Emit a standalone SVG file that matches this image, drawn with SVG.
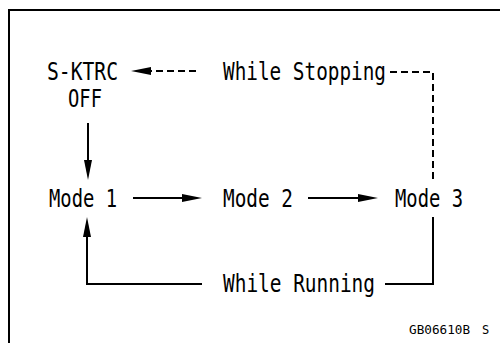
<svg xmlns="http://www.w3.org/2000/svg" width="500" height="343" viewBox="0 0 500 343">
<style>
.t{font-family:"DejaVu Sans Mono","Liberation Mono",monospace;font-size:24px;fill:#000}
.s{font-family:"DejaVu Sans Mono","Liberation Mono",monospace;font-size:12px;fill:#000}
.ln{fill:none;stroke:#000;stroke-width:2}
.d{stroke-dasharray:7,4}
</style>
<defs>
<marker id="ah" viewBox="0 -4 20 8" refX="0" refY="0" markerWidth="20" markerHeight="8" markerUnits="userSpaceOnUse" orient="auto">
<path d="M0,-4 L20,0 L0,4 z" fill="#000"/>
</marker>
</defs>
<rect width="500" height="343" fill="#fff"/>
<g id="frame">
<path class="ln" d="M8,10 H500 M9,9 V343"/>
</g>
<g id="connectors">
<path class="ln d" d="M196,71 H151" marker-end="url(#ah)"/>
<path class="ln d" d="M390,72 H433 V183"/>
<path class="ln" d="M88,123 V160" marker-end="url(#ah)"/>
<path class="ln" d="M133,198 H182" marker-end="url(#ah)"/>
<path class="ln" d="M308,198 H358" marker-end="url(#ah)"/>
<path class="ln" d="M385,284 H433 V217"/>
<path class="ln" d="M202,284 H87 V237" marker-end="url(#ah)"/>
</g>
<g id="n-sktrc">
<text class="t" x="47" y="80" textLength="71" lengthAdjust="spacingAndGlyphs">S-KTRC</text>
<text class="t" x="68" y="107" textLength="34" lengthAdjust="spacingAndGlyphs">OFF</text>
</g>
<g id="n-stopping">
<text class="t" x="223" y="80" textLength="163" lengthAdjust="spacingAndGlyphs">While Stopping</text>
</g>
<g id="n-mode1">
<text class="t" x="49" y="207" textLength="68" lengthAdjust="spacingAndGlyphs">Mode 1</text>
</g>
<g id="n-mode2">
<text class="t" x="223" y="207" textLength="70" lengthAdjust="spacingAndGlyphs">Mode 2</text>
</g>
<g id="n-mode3">
<text class="t" x="395" y="207" textLength="68" lengthAdjust="spacingAndGlyphs">Mode 3</text>
</g>
<g id="n-running">
<text class="t" x="223" y="292" textLength="152" lengthAdjust="spacingAndGlyphs">While Running</text>
</g>
<g id="code">
<text class="s" y="334"><tspan x="409" textLength="61" lengthAdjust="spacingAndGlyphs">GB06610B</tspan><tspan x="482">S</tspan></text>
</g>
</svg>
